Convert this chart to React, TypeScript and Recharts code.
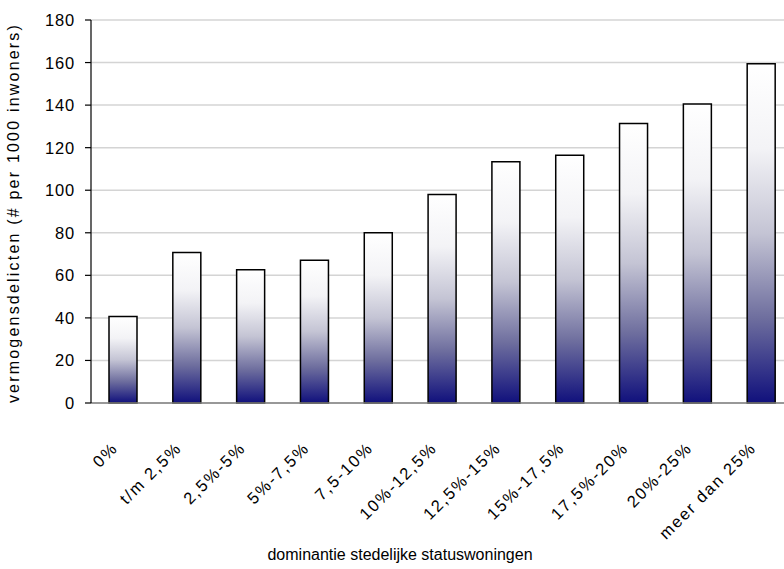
import { BarChart, Bar, XAxis, YAxis, CartesianGrid } from 'recharts';

const categories = [
  '0%',
  't/m 2,5%',
  '2,5%-5%',
  '5%-7,5%',
  '7,5-10%',
  '10%-12,5%',
  '12,5%-15%',
  '15%-17,5%',
  '17,5%-20%',
  '20%-25%',
  'meer dan 25%',
];

const delicten = [40.6, 70.7, 62.6, 67.1, 80, 98, 113.4, 116.4, 131.4, 140.5, 159.4];

const yTicks = [0, 20, 40, 60, 80, 100, 120, 140, 160, 180];

const chartData = categories.map((name, i) => ({ name, waarde: delicten[i] }));

const FONT = '"Liberation Sans", Arial, sans-serif';

function XTick({ x, y, payload }: any) {
  const tx = x - 4;
  const ty = y + 38;
  return (
    <text
      x={tx}
      y={ty}
      transform={`rotate(-45, ${tx}, ${ty})`}
      textAnchor="end"
      fontSize={16.5}
      letterSpacing={1.8}
      fontFamily={FONT}
      fill="#000"
    >
      {payload.value}
    </text>
  );
}

function YTick({ x, y, payload }: any) {
  return (
    <text
      x={x}
      y={y}
      dy={6}
      textAnchor="end"
      fontSize={16.5}
      letterSpacing={0.8}
      fontFamily={FONT}
      fill="#000"
    >
      {payload.value}
    </text>
  );
}

export default function App() {
  return (
    <div
      style={{
        position: 'absolute',
        left: 0,
        top: 0,
        width: 784,
        height: 569,
        overflow: 'hidden',
        background: '#fff',
        fontFamily: FONT,
      }}
    >
      <BarChart
        width={800}
        height={569}
        data={chartData}
        margin={{ top: 20, right: 7, left: 0, bottom: 0 }}
        barSize={28}
      >
        <defs>
          <linearGradient id="navyGrad" x1="0" y1="0" x2="0" y2="1">
            <stop offset="0%" stopColor="#ffffff" />
            <stop offset="25%" stopColor="#f3f3f6" />
            <stop offset="50%" stopColor="#c4c4d4" />
            <stop offset="75%" stopColor="#6e6e9e" />
            <stop offset="100%" stopColor="#10107c" />
          </linearGradient>
        </defs>
        <CartesianGrid stroke="#d4d4d4" strokeWidth={1.5} vertical={false} />
        <XAxis
          dataKey="name"
          height={166}
          interval={0}
          tickLine={false}
          axisLine={{ stroke: '#808080', strokeWidth: 1.5 }}
          tick={<XTick />}
        />
        <YAxis
          width={91}
          domain={[0, 180]}
          ticks={yTicks}
          interval={0}
          tickSize={6}
          tickMargin={10}
          axisLine={{ stroke: '#000', strokeWidth: 1.2 }}
          tickLine={{ stroke: '#000', strokeWidth: 1.2 }}
          tick={<YTick />}
        />
        <Bar
          dataKey="waarde"
          fill="url(#navyGrad)"
          stroke="#000"
          strokeWidth={1.5}
          isAnimationActive={false}
        />
      </BarChart>
      <div
        style={{
          position: 'absolute',
          left: 14,
          top: 213,
          transform: 'translate(-50%, -50%) rotate(-90deg)',
          whiteSpace: 'nowrap',
          fontSize: 16,
          letterSpacing: 2.2,
          color: '#000',
        }}
      >
        vermogensdelicten (# per 1000 inwoners)
      </div>
      <div
        style={{
          position: 'absolute',
          left: 400,
          top: 555,
          transform: 'translate(-50%, -50%)',
          whiteSpace: 'nowrap',
          fontSize: 16,
          color: '#000',
        }}
      >
        dominantie stedelijke statuswoningen
      </div>
    </div>
  );
}
